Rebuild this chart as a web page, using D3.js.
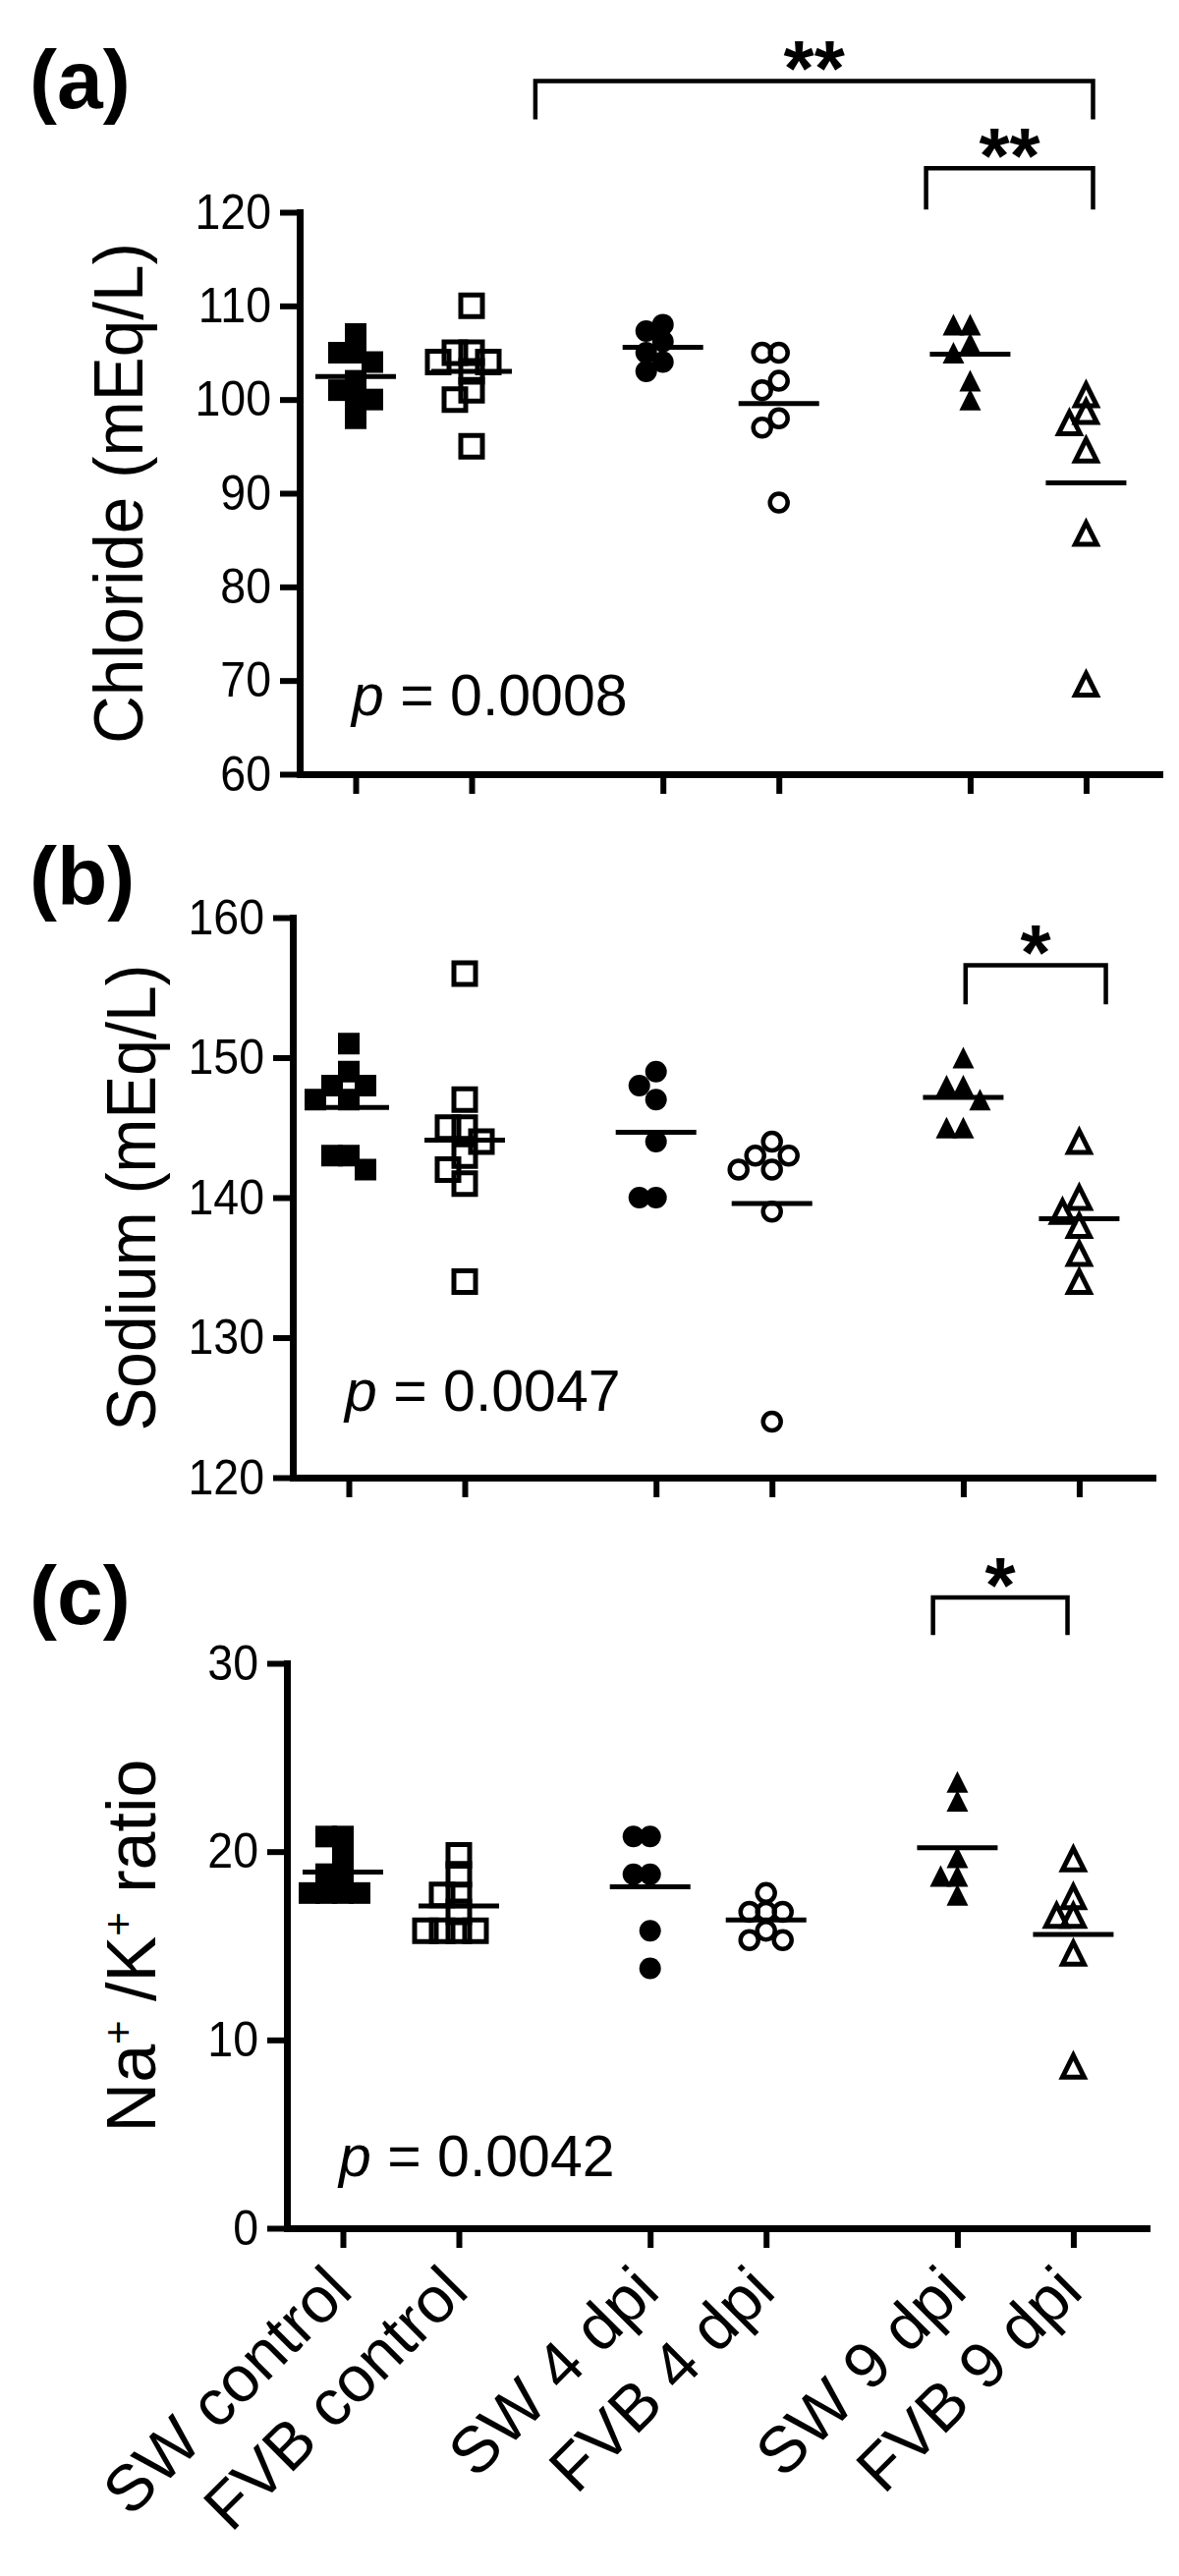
<!DOCTYPE html>
<html>
<head>
<meta charset="utf-8">
<script src="https://cdn.jsdelivr.net/npm/d3@7"></script>
<style>
  body { margin: 0; background: #fff; }
</style>
</head>
<body>
<div id="chart"></div>
<script>
// set dimensions
var width = 1200
var height = 2622

// groups along the x axis
var groups = ["SW control", "FVB control", "SW 4 dpi", "FVB 4 dpi", "SW 9 dpi", "FVB 9 dpi"]
var shapes = ["square", "square", "circle", "circle", "triangle", "triangle"]
var filled = [true, false, true, false, true, false]

// (a) chloride, mEq/L
var chloride = [
  [107, 105, 105, 104, 102, 101, 100, 100, 98],
  [110, 105, 105, 104, 104, 103, 101, 100, 95],
  [108, 107.3, 106.2, 105, 104, 103],
  [105, 105, 102, 101, 98, 97, 89],
  [108, 108, 106, 105, 102, 100],
  [100.5, 98.7, 97.5, 94.6, 85.7, 69.6]
]
// (b) sodium, mEq/L
var sodium = [
  [151, 149, 148, 148, 147, 147, 143, 143, 142],
  [156, 147, 145, 145, 144, 143, 142, 141, 134],
  [149, 148, 147, 144, 140, 140],
  [144, 143, 143, 142, 142, 139, 124],
  [150, 148, 148, 147, 145, 145],
  [144, 140, 139, 138, 136, 134]
]
// (c) Na+/K+ ratio
var ratio = [
  [20.8, 20.8, 19.8, 18.8, 18.8, 17.8, 17.8, 17.8, 17.8],
  [19.8, 18.8, 17.7, 17.7, 16.8, 15.8, 15.8, 15.8, 15.8],
  [20.8, 20.8, 18.8, 18.8, 15.8, 13.8],
  [17.8, 16.8, 16.8, 16.8, 15.8, 15.3, 15.3],
  [23.7, 22.7, 19.7, 18.7, 18.7, 17.7],
  [19.6, 17.6, 16.6, 16.6, 14.6, 8.6]
]

// tick labels
var chlorideTicks = [60, 70, 80, 90, 100, 110, 120]
var sodiumTicks = [120, 130, 140, 150, 160]
var ratioTicks = [0, 10, 20, 30]

// p values of each panel
var pValues = ["0.0008", "0.0047", "0.0042"]

// significance brackets: ends in group units, heights in data units
var chlorideBrackets = [
  {x1: 1.55, x2: 6.36, top: 134, leg: 129.9, label: "**"},
  {x1: 4.92, x2: 6.36, top: 124.7, leg: 120.3, label: "**"}
]
var sodiumBrackets = [
  {x1: 5.32, x2: 6.53, top: 156.6, leg: 153.8, label: "*"}
]
var ratioBrackets = [
  {x1: 5.09, x2: 6.25, top: 33.5, leg: 31.5, label: "*"}
]

var font = "'Liberation Sans', Arial, Helvetica, sans-serif"

var svg = d3.select("#chart")
  .append("svg")
  .attr("width", width)
  .attr("height", height)

svg.append("rect")
  .attr("width", width)
  .attr("height", height)
  .attr("fill", "#fff")

// group slot: pairs of groups with a wider gap between pairs
function slot(i) {
  return i + 0.65 * Math.floor(i / 2)
}

// spread points that sit at the same height, like a prism scatter
function dodge(values, y, step, rowH) {
  var order = values.map(function(v, i) { return i })
    .sort(function(a, b) { return values[b] - values[a] })
  var placed = []
  var offs = []
  order.forEach(function(i) {
    var py = y(values[i])
    for (var k = 0; k < 40; k++) {
      var o = k == 0 ? 0 : (k % 2 ? -1 : 1) * Math.ceil(k / 2) * step
      var ok = placed.every(function(p) {
        return Math.abs(p.y - py) >= rowH || Math.abs(p.o - o) >= step * 0.99
      })
      if (ok) { offs[i] = o; placed.push({y: py, o: o}); break }
    }
  })
  return offs
}

function markerPath(shape, s) {
  if (shape == "circle") return d3.symbol().type(d3.symbolCircle).size(Math.PI * s * s / 4)()
  if (shape == "square") return d3.symbol().type(d3.symbolSquare).size(s * s)()
  var h = s / 2
  return "M0," + (-h) + "L" + h + "," + h + "L" + (-h) + "," + h + "Z"
}

function drawPanel(opt) {
  var g = svg.append("g")

  var x = d3.scaleLinear()
    .domain([-0.483, 6.932])
    .range([opt.left, opt.left + 875])

  var y = d3.scaleLinear()
    .domain(d3.extent(opt.ticks))
    .range([opt.bottom, opt.top])

  // y axis
  var yAxis = g.append("g")
    .attr("transform", "translate(" + opt.left + ",0)")
    .call(d3.axisLeft(y).tickValues(opt.ticks).tickSize(20).tickSizeOuter(0).tickPadding(9))
  yAxis.select(".domain").attr("stroke-width", 7).attr("stroke-linecap", "square")
  yAxis.selectAll(".tick line").attr("stroke-width", 6)
  yAxis.selectAll(".tick text")
    .attr("font-family", font)
    .attr("font-size", "50px")
    .attr("fill", "#000")
    .each(function() {
      var t = d3.select(this)
      t.attr("textLength", this.getComputedTextLength() * 0.93)
       .attr("lengthAdjust", "spacingAndGlyphs")
    })

  // x axis
  var xAxis = g.append("g")
    .attr("transform", "translate(0," + opt.bottom + ")")
    .call(d3.axisBottom(x).tickValues(groups.map(function(d, i) { return slot(i) }))
      .tickSize(20).tickSizeOuter(0).tickFormat(""))
  xAxis.select(".domain").attr("stroke-width", 7).attr("stroke-linecap", "square")
  xAxis.selectAll(".tick line").attr("stroke-width", 6)

  // y title
  var cy = (opt.top + opt.bottom) / 2
  var title = g.append("text")
    .attr("transform", "translate(" + opt.titleX + "," + cy + ") rotate(-90)")
    .attr("text-anchor", "middle")
    .attr("font-family", font)
    .attr("font-size", "70px")
  opt.title.forEach(function(part) {
    var ts = title.append("tspan").text(part.t)
    if (part.sup) ts.attr("baseline-shift", "super").attr("font-size", "42px")
  })
  if (opt.titleLength) {
    title.attr("textLength", opt.titleLength).attr("lengthAdjust", "spacingAndGlyphs")
  }

  // panel letter
  g.append("text")
    .attr("x", 30)
    .attr("y", opt.letterY)
    .attr("font-family", font)
    .attr("font-weight", "bold")
    .attr("font-size", "84px")
    .text(opt.letter)

  // p value
  var p = g.append("text")
    .attr("x", opt.left + 53)
    .attr("y", opt.pY)
    .attr("font-family", font)
    .attr("font-size", "59px")
  p.append("tspan").attr("font-style", "italic").text("p")
  p.append("tspan").text(" = " + opt.p)

  // points and means
  opt.data.forEach(function(values, gi) {
    var cx = x(slot(gi))
    var offs = dodge(values, y, 17, 16)
    var pts = g.append("g")
    pts.selectAll("path")
      .data(values)
      .enter()
      .append("path")
      .attr("transform", function(d, i) { return "translate(" + (cx + offs[i]) + "," + y(d) + ")" })
      .attr("d", markerPath(shapes[gi], filled[gi] ? 22 : (shapes[gi] == "circle" ? 18 : 22)))
      .attr("fill", filled[gi] ? "#000" : "none")
      .attr("stroke", filled[gi] ? "none" : "#000")
      .attr("stroke-width", shapes[gi] == "circle" ? 4.5 : 5)

    g.append("line")
      .attr("x1", cx - 41)
      .attr("x2", cx + 41)
      .attr("y1", y(d3.mean(values)))
      .attr("y2", y(d3.mean(values)))
      .attr("stroke", "#000")
      .attr("stroke-width", 5)
  })

  // brackets
  opt.brackets.forEach(function(b) {
    var x1 = x(b.x1), x2 = x(b.x2), yt = y(b.top), yl = y(b.leg)
    g.append("path")
      .attr("d", "M" + x1 + "," + yl + "V" + yt + "H" + x2 + "V" + yl)
      .attr("fill", "none")
      .attr("stroke", "#000")
      .attr("stroke-width", 4.5)
    g.append("text")
      .attr("x", (x1 + x2) / 2)
      .attr("y", yt - 31 + 0.57 * 80)
      .attr("text-anchor", "middle")
      .attr("font-family", font)
      .attr("font-weight", "bold")
      .attr("font-size", "80px")
      .text(b.label)
  })

  // category labels under the last panel
  if (opt.labels) {
    g.selectAll(".xlab")
      .data(groups)
      .enter()
      .append("text")
      .attr("class", "xlab")
      .attr("transform", function(d, i) {
        return "translate(" + (x(slot(i)) + 12) + "," + (opt.bottom + 67) + ") rotate(-45)"
      })
      .attr("text-anchor", "end")
      .attr("font-family", font)
      .attr("font-size", "66px")
      .text(function(d) { return d })
  }
}

drawPanel({
  letter: "(a)", letterY: 110,
  left: 305, top: 216, bottom: 788,
  data: chloride, ticks: chlorideTicks, p: pValues[0], pY: 728,
  title: [{t: "Chloride (mEq/L)"}], titleX: 145, titleLength: 510,
  brackets: chlorideBrackets
})

drawPanel({
  letter: "(b)", letterY: 921,
  left: 298, top: 934, bottom: 1504,
  data: sodium, ticks: sodiumTicks, p: pValues[1], pY: 1436,
  title: [{t: "Sodium (mEq/L)"}], titleX: 158, titleLength: 475,
  brackets: sodiumBrackets
})

drawPanel({
  letter: "(c)", letterY: 1653,
  left: 292, top: 1693, bottom: 2268,
  data: ratio, ticks: ratioTicks, p: pValues[2], pY: 2215,
  title: [{t: "Na"}, {t: "+", sup: true}, {t: " /K"}, {t: "+", sup: true}, {t: " ratio"}], titleX: 158,
  brackets: ratioBrackets, labels: true
})
</script>
</body>
</html>
